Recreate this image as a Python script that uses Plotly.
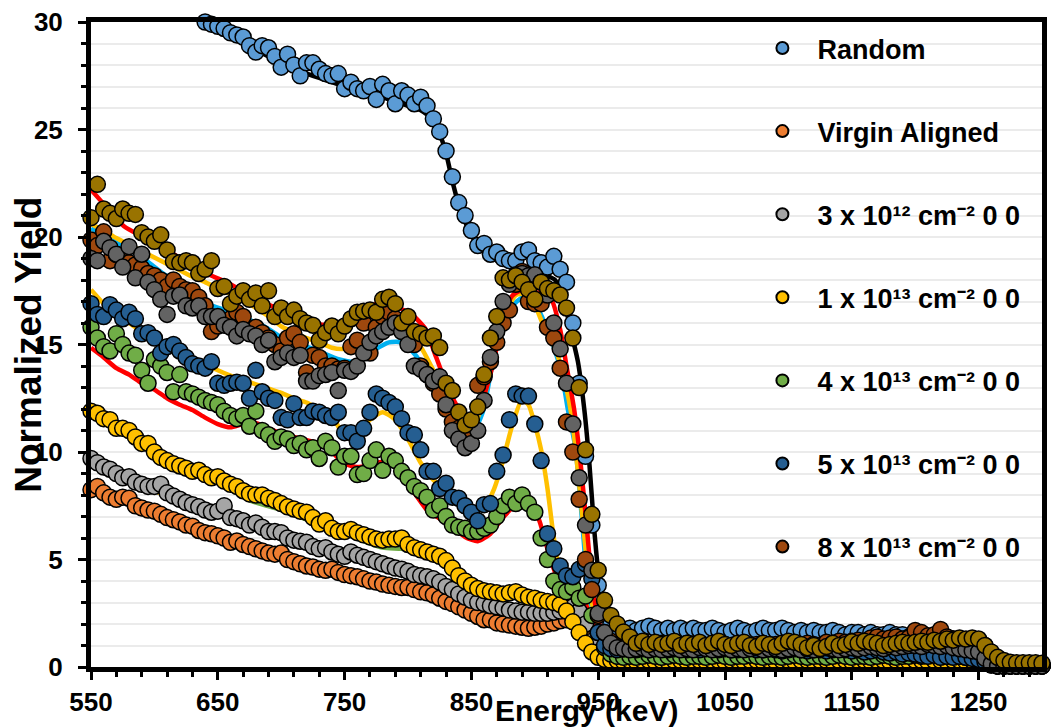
import plotly.graph_objects as go

FONT = "Liberation Sans, Arial, sans-serif"

# Detector energy channels (keV)
ENERGY = [
    550, 555, 560, 565, 570, 575, 580, 585, 590, 595,
    600, 605, 610, 615, 620, 625, 630, 635, 640, 645,
    650, 655, 660, 665, 670, 675, 680, 685, 690, 695,
    700, 705, 710, 715, 720, 725, 730, 735, 740, 745,
    750, 755, 760, 765, 770, 775, 780, 785, 790, 795,
    800, 805, 810, 815, 820, 825, 830, 835, 840, 845,
    850, 855, 860, 865, 870, 875, 880, 885, 890, 895,
    900, 905, 910, 915, 920, 925, 930, 935, 940, 945,
    950, 955, 960, 965, 970, 975, 980, 985, 990, 995,
    1000, 1005, 1010, 1015, 1020, 1025, 1030, 1035, 1040, 1045,
    1050, 1055, 1060, 1065, 1070, 1075, 1080, 1085, 1090, 1095,
    1100, 1105, 1110, 1115, 1120, 1125, 1130, 1135, 1140, 1145,
    1150, 1155, 1160, 1165, 1170, 1175, 1180, 1185, 1190, 1195,
    1200, 1205, 1210, 1215, 1220, 1225, 1230, 1235, 1240, 1245,
    1250, 1255, 1260, 1265, 1270, 1275, 1280, 1285, 1290, 1295,
    1300,
]

# Measured normalized yields, one value per channel
RANDOM = [
    None, None, None, None, None, None, None, None, None, None,
    None, None, None, None, None, None, None, None, 30.0, 29.9,
    29.8, 29.7, 29.5, 29.4, 29.3, 28.9, 28.6, 28.9, 28.8, 28.4,
    27.9, 28.5, 28.0, 27.5, 28.1, 28.1, 27.8, 27.6, 27.5, 27.6,
    26.9, 27.2, 26.9, 26.8, 27.0, 26.4, 27.1, 26.8, 26.2, 26.8,
    26.6, 26.2, 26.5, 26.1, 25.5, 24.9, 24.0, 22.8, 21.6, 21.0,
    20.3, 19.6, 19.7, 19.2, 19.3, 19.0, 18.9, 18.9, 19.3, 19.4,
    18.9, 18.8, 18.6, 19.1, 18.5, 17.9, 16.0, 13.2, 9.8, 6.6,
    3.8, 2.5, 2.0, 1.8, 1.7, 1.8, 1.7, 1.8, 1.9, 1.8,
    1.7, 1.8, 1.7, 1.8, 1.7, 1.8, 1.7, 1.7, 1.8, 1.7,
    1.6, 1.7, 1.8, 1.7, 1.6, 1.7, 1.8, 1.7, 1.7, 1.8,
    1.7, 1.6, 1.7, 1.6, 1.7, 1.6, 1.6, 1.7, 1.6, 1.5,
    1.6, 1.6, 1.5, 1.6, 1.5, 1.5, 1.6, 1.5, 1.5, 1.4,
    1.4, 1.5, 1.3, 1.4, 1.3, 1.4, 1.3, 1.3, 1.2, 1.3,
    1.2, 1.0, 0.6, 0.3, 0.2, 0.15, 0.15, 0.1, 0.15, 0.1,
    0.1,
]

VIRGIN = [
    8.25, 8.4, 8.1, 7.9, 7.8, 7.9, 7.85, 7.5, 7.4, 7.3,
    7.25, 7.1, 6.95, 6.85, 6.75, 6.6, 6.55, 6.35, 6.25, 6.2,
    6.1, 6.0, 5.8, 5.86, 5.7, 5.6, 5.5, 5.4, 5.3, 5.25,
    5.3, 5.0, 4.9, 4.8, 4.7, 4.65, 4.55, 4.5, 4.55, 4.4,
    4.3, 4.25, 4.2, 4.1, 4.0, 3.95, 3.86, 3.8, 3.75, 3.7,
    3.7, 3.6, 3.5, 3.45, 3.35, 3.2, 3.05, 2.95, 2.8, 2.65,
    2.5, 2.35, 2.2, 2.2, 2.05, 2.0, 1.95, 1.9, 1.85, 1.8,
    1.85, 1.9, 2.0, 2.05, 2.15, 2.2, 2.35, 2.5, 2.2, 1.3,
    0.8, 0.5, 0.4, 0.35, 0.4, 0.35, 0.3, 0.35, 0.4, 0.35,
    0.3, 0.35, 0.4, 0.3, 0.35, 0.3, 0.35, 0.4, 0.35, 0.3,
    0.35, 0.3, 0.35, 0.4, 0.3, 0.35, 0.3, 0.35, 0.3, 0.35,
    0.3, 0.35, 0.3, 0.3, 0.35, 0.3, 0.35, 0.3, 0.3, 0.35,
    0.3, 0.3, 0.35, 0.3, 0.3, 0.35, 0.3, 0.3, 0.35, 0.3,
    0.3, 0.35, 0.3, 0.3, 0.35, 0.3, 0.3, 0.35, 0.3, 0.3,
    0.3, 0.2, 0.1, 0.05, 0.05, 0.05, 0.05, 0.05, 0.05, 0.05,
    0.05,
]

DOSE_3E12 = [
    9.7, 9.5, 9.3, 9.2, 9.0, 8.8, 8.85, 8.6, 8.5, 8.4,
    8.4, 8.5, 8.1, 7.95, 7.8, 7.65, 7.55, 7.45, 7.3, 7.2,
    7.25, 7.5, 6.95, 6.9, 6.8, 6.6, 6.7, 6.5, 6.3, 6.3,
    6.25, 6.0, 5.9, 5.85, 5.8, 5.6, 5.5, 5.55, 5.35, 5.25,
    5.15, 5.35, 5.2, 5.1, 5.0, 4.9, 4.8, 4.7, 4.6, 4.55,
    4.45, 4.3, 4.25, 4.2, 4.1, 3.95, 3.75, 3.6, 3.4, 3.25,
    3.1, 3.0, 2.95, 2.85, 2.8, 2.75, 2.65, 2.6, 2.55, 2.55,
    2.5, 2.5, 2.5, 2.55, 2.6, 2.7, 2.8, 2.6, 2.0, 1.2,
    0.7, 0.5, 0.45, 0.5, 0.45, 0.4, 0.45, 0.5, 0.45, 0.4,
    0.45, 0.5, 0.45, 0.4, 0.45, 0.45, 0.5, 0.45, 0.4, 0.45,
    0.5, 0.45, 0.4, 0.45, 0.5, 0.45, 0.4, 0.45, 0.45, 0.5,
    0.45, 0.4, 0.45, 0.5, 0.45, 0.4, 0.45, 0.45, 0.4, 0.45,
    0.5, 0.45, 0.4, 0.45, 0.45, 0.5, 0.45, 0.4, 0.45, 0.5,
    0.45, 0.5, 0.55, 0.5, 0.55, 0.5, 0.45, 0.5, 0.45, 0.4,
    0.35, 0.25, 0.1, 0.05, 0.05, 0.05, 0.05, 0.05, 0.05, 0.05,
    0.05,
]

DOSE_1E13 = [
    11.9, 11.8, 11.55, 11.5, 11.1, 11.1, 11.0, 10.7, 10.4, 10.4,
    10.0, 9.75, 9.6, 9.45, 9.35, 9.25, 9.1, 9.15, 8.95, 8.8,
    8.85, 8.65, 8.5, 8.4, 8.2, 8.05, 8.0, 8.0, 7.85, 7.75,
    7.6, 7.45, 7.35, 7.25, 7.2, 6.95, 6.65, 6.8, 6.45, 6.3,
    6.3, 6.4, 6.25, 6.15, 6.05, 5.95, 5.9, 5.95, 5.95, 6.0,
    5.7, 5.55, 5.45, 5.35, 5.25, 5.15, 4.95, 4.6, 4.25, 4.0,
    3.8, 3.65, 3.55, 3.5, 3.45, 3.4, 3.45, 3.5, 3.35, 3.25,
    3.2, 3.1, 3.05, 3.0, 2.9, 2.6, 2.1, 1.6, 1.1, 0.7,
    0.45, 0.35, 0.3, 0.3, 0.25, 0.3, 0.25, 0.3, 0.3, 0.25,
    0.3, 0.25, 0.3, 0.3, 0.25, 0.3, 0.3, 0.25, 0.3, 0.3,
    0.25, 0.3, 0.3, 0.25, 0.3, 0.3, 0.25, 0.3, 0.25, 0.3,
    0.3, 0.25, 0.3, 0.3, 0.25, 0.3, 0.3, 0.25, 0.3, 0.3,
    0.25, 0.3, 0.3, 0.25, 0.3, 0.3, 0.25, 0.3, 0.3, 0.25,
    0.3, 0.3, 0.25, 0.3, 0.3, 0.25, 0.3, 0.3, 0.25, 0.3,
    0.25, 0.2, 0.1, 0.05, 0.05, 0.05, 0.05, 0.05, 0.05, 0.05,
    0.05,
]

DOSE_4E13 = [
    15.8, 15.3, 14.9, 14.7, 15.5, 15.0, 14.6, 14.5, 13.8, 13.2,
    14.3, 14.0, 13.7, 12.8, 13.6, 12.8, 12.7, 12.55, 12.4, 12.3,
    12.2, 11.9, 11.7, 11.55, 11.7, 11.2, 11.9, 11.0, 10.8, 10.5,
    10.7, 10.6, 10.3, 10.4, 10.1, 10.2, 9.7, 10.5, 10.2, 9.3,
    9.8, 9.8, 8.95, 9.0, 9.6, 10.1, 9.15, 9.8, 9.6, 9.1,
    8.8, 8.4, 8.2, 7.9, 7.3, 7.5, 7.0, 6.6, 6.5, 6.45,
    6.3, 6.3, 6.45, 6.6, 7.0, 7.5, 7.9, 7.6, 8.0, 7.6,
    7.2, 6.0, 5.0, 4.0, 3.6, 3.5, 3.7, 3.2, 3.3, 2.4,
    1.6, 0.9, 0.6, 0.5, 0.45, 0.5, 0.45, 0.5, 0.55, 0.5,
    0.45, 0.5, 0.55, 0.5, 0.45, 0.5, 0.5, 0.45, 0.5, 0.55,
    0.5, 0.45, 0.5, 0.5, 0.55, 0.5, 0.45, 0.5, 0.5, 0.45,
    0.5, 0.55, 0.5, 0.45, 0.5, 0.5, 0.45, 0.5, 0.55, 0.5,
    0.45, 0.5, 0.5, 0.45, 0.5, 0.55, 0.5, 0.45, 0.5, 0.5,
    0.55, 0.5, 0.55, 0.6, 0.55, 0.5, 0.55, 0.5, 0.45, 0.5,
    0.4, 0.3, 0.15, 0.05, 0.05, 0.05, 0.05, 0.05, 0.05, 0.05,
    0.05,
]

DOSE_5E13 = [
    16.9, 16.4, 16.3, 16.85, 16.6, 16.2, 16.5, 16.2, 15.5, 15.55,
    15.3, 14.6, 14.9, 15.0, 14.7, 14.4, 14.1, 14.0, 13.9, 14.2,
    13.2, 13.1, 13.2, 13.25, 13.2, 12.5, 13.8, 12.8, 12.5, 12.4,
    11.6, 11.5, 12.25, 11.6, 11.6, 11.9, 11.85, 11.7, 11.6, 11.85,
    10.9, 10.9, 10.5, 11.1, 11.85, 12.7, 12.5, 12.3, 12.1, 11.55,
    10.9, 10.8, 10.1, 9.1, 9.1, 8.3, 8.55, 7.9, 7.85, 7.5,
    7.2, 6.8, 7.55, 7.6, 9.1, 9.86, 11.5, 12.7, 12.6, 12.6,
    11.3, 9.6, 6.2, 5.5, 4.7, 4.25, 4.2, 4.55, 4.8, 4.1,
    1.6, 1.0, 0.85, 0.8, 0.85, 0.9, 0.8, 0.85, 0.8, 0.9,
    0.85, 0.8, 0.85, 0.9, 0.8, 0.85, 0.8, 0.9, 0.85, 0.8,
    0.85, 0.8, 0.8, 0.85, 0.9, 0.8, 0.8, 0.85, 0.8, 0.75,
    0.8, 0.85, 0.8, 0.75, 0.8, 0.8, 0.75, 0.8, 0.85, 0.8,
    0.75, 0.8, 0.7, 0.75, 0.8, 0.7, 0.65, 0.7, 0.6, 0.65,
    0.6, 0.55, 0.5, 0.55, 0.45, 0.5, 0.45, 0.5, 0.45, 0.4,
    0.35, 0.25, 0.1, 0.05, 0.05, 0.05, 0.05, 0.05, 0.05, 0.05,
    0.05,
]

DOSE_8E13 = [
    19.86, 19.6, 20.24, 18.9, 19.2, 19.0, 18.8, 18.7, 18.55, 18.3,
    18.2, 18.0, 17.7, 18.0, 17.7, 17.55, 17.5, 17.2, 16.8, 15.6,
    15.86, 16.1, 16.2, 16.5, 16.3, 15.6, 15.8, 15.55, 15.3, 15.0,
    14.7, 15.3, 15.5, 15.1, 13.7, 14.5, 14.4, 14.0, 14.0, 13.86,
    13.9, 14.9, 15.2, 16.0, 14.6, 15.8, 16.3, 16.5, 16.2, 15.8,
    15.4, 15.0, 14.0, 13.6, 13.2, 12.7, 12.0, 11.4, 11.1, 11.0,
    11.0, 13.1, 13.5, 14.2, 15.1, 16.0, 16.6, 17.8, 18.4, 17.0,
    16.9, 16.9, 15.8, 15.3, 13.9, 11.4, 10.0, 7.8, 5.0, 3.6,
    2.4, 1.6, 1.2, 1.05, 1.0, 1.1, 1.0, 0.95, 1.05, 1.0,
    1.1, 1.0, 0.95, 1.05, 1.1, 1.0, 1.05, 0.95, 1.0, 1.1,
    1.05, 1.0, 1.1, 1.0, 0.95, 1.05, 1.1, 1.0, 1.05, 1.0,
    1.1, 1.05, 1.0, 1.1, 1.05, 1.0, 1.15, 1.1, 1.2, 1.15,
    1.2, 1.25, 1.2, 1.35, 1.4, 1.3, 1.35, 1.4, 1.3, 1.35,
    1.7, 1.6, 1.45, 1.5, 1.75, 1.4, 1.3, 1.2, 1.25, 1.1,
    0.9, 0.5, 0.2, 0.1, 0.05, 0.05, 0.05, 0.05, 0.05, 0.05,
    0.05,
]

DOSE_1E14 = [
    19.0, 18.9, 19.8, 19.5, 19.2, 18.6, 19.55, 18.1, 19.2, 17.9,
    17.55, 17.1, 16.4, 17.25, 17.3, 16.8, 16.7, 16.8, 16.3, 16.3,
    16.3, 15.9, 15.8, 15.4, 15.7, 15.5, 15.4, 15.0, 15.2, 14.2,
    14.4, 14.6, 14.4, 14.5, 13.3, 13.3, 13.55, 13.6, 13.7, 12.86,
    13.8, 13.75, 14.0, 14.6, 15.1, 15.4, 15.6, 15.8, 16.0, 15.6,
    15.0, 14.0, 13.86, 13.6, 13.3, 13.5, 12.2, 11.0, 10.6, 10.2,
    10.4, 11.0, 12.4, 14.4, 15.6, 17.0, 17.8, 18.24, 18.3, 18.2,
    18.24, 17.9, 17.3, 16.0, 14.8, 13.2, 11.3, 8.8, 6.6, 4.5,
    2.5, 1.6, 1.1, 0.9, 0.85, 0.8, 0.85, 0.9, 0.8, 0.85,
    0.8, 0.85, 0.9, 0.8, 0.85, 0.8, 0.9, 0.85, 0.8, 0.85,
    0.9, 0.8, 0.85, 0.8, 0.85, 0.9, 0.8, 0.85, 0.85, 0.8,
    0.85, 0.9, 0.8, 0.85, 0.8, 0.85, 0.9, 0.85, 0.8, 0.85,
    0.9, 0.85, 0.9, 0.95, 0.9, 0.85, 0.95, 0.9, 0.95, 1.0,
    1.0, 0.95, 1.05, 1.0, 0.95, 1.0, 0.9, 0.85, 0.8, 0.75,
    0.7, 0.4, 0.15, 0.05, 0.05, 0.05, 0.05, 0.05, 0.05, 0.05,
    0.05,
]

DOSE_2E14 = [
    20.9, 22.45, 21.3, 21.1, 20.86, 21.3, 21.1, 21.05, 20.2, 20.0,
    19.8, 20.1, 19.4, 18.86, 18.8, 18.9, 18.8, 18.3, 18.5, 18.9,
    17.6, 17.7, 16.9, 17.25, 17.5, 17.1, 17.4, 16.8, 17.5, 16.3,
    16.7, 16.3, 16.6, 16.2, 16.0, 15.9, 15.2, 15.55, 15.86, 15.5,
    15.86, 16.2, 16.5, 16.55, 16.6, 16.5, 17.1, 17.2, 16.9, 16.0,
    16.3, 15.6, 15.5, 15.3, 15.4, 14.86, 13.2, 12.86, 11.86, 11.25,
    11.5, 12.1, 13.6, 15.3, 16.3, 18.1, 18.0, 18.2, 17.9, 17.55,
    17.1, 17.9, 17.6, 17.5, 17.3, 16.7, 15.3, 13.0, 10.1, 7.1,
    4.5, 3.1, 2.4, 2.0, 1.63, 1.4, 1.1, 1.2, 1.05, 1.15,
    1.05, 1.1, 1.2, 1.0, 1.1, 1.05, 1.15, 1.0, 1.1, 1.2,
    1.05, 1.0, 1.1, 1.15, 1.0, 0.95, 1.1, 1.05, 0.95, 1.1,
    1.2, 1.15, 1.05, 0.9, 1.0, 0.86, 0.95, 1.1, 1.0, 1.05,
    1.17, 1.1, 1.2, 1.15, 1.1, 1.0, 1.05, 1.1, 1.15, 1.1,
    1.15, 1.2, 1.15, 1.25, 1.2, 1.3, 1.25, 1.35, 1.3, 1.35,
    1.3, 1.0, 0.7, 0.45, 0.3, 0.22, 0.2, 0.2, 0.2, 0.2,
    0.18,
]

# Simulated spectra as (energy keV, yield) knots
SIM_RANDOM = [
    (640, 30.2), (650, 29.8), (660, 29.4), (670, 29.0), (680, 28.7), (690, 28.4),
    (700, 28.1), (710, 27.8), (720, 27.6), (730, 27.4), (740, 27.2), (750, 27.0),
    (760, 26.8), (770, 26.6), (780, 26.5), (790, 26.3), (800, 26.1), (810, 25.9),
    (815, 25.7), (820, 25.4), (825, 24.8), (830, 23.9), (835, 22.6), (840, 21.5),
    (845, 20.7), (850, 20.1), (855, 19.6), (860, 19.3), (870, 18.9), (880, 18.6),
    (890, 18.5), (900, 18.4), (905, 18.3), (910, 18.2), (916, 18.0), (920, 17.5),
    (924, 16.8), (929, 15.5), (934, 14.2), (939, 12.0), (943, 9.5), (947, 6.3),
    (950, 4.4), (953, 3.0), (957, 2.2), (962, 1.9), (970, 1.75), (1000, 1.7),
    (1050, 1.65), (1100, 1.6), (1150, 1.55), (1200, 1.45), (1240, 1.3), (1250, 1.2),
    (1257, 0.8), (1264, 0.3), (1270, 0.15), (1300, 0.1),
]

SIM_VIRGIN = [
    (550, 8.2), (600, 7.1), (650, 6.0), (700, 5.1), (750, 4.2), (800, 3.6),
    (830, 3.05), (850, 2.5), (870, 2.05), (890, 1.85), (910, 1.95), (930, 2.3),
    (938, 2.4), (945, 1.2), (950, 0.6), (960, 0.35), (1250, 0.3), (1262, 0.05),
    (1300, 0.05),
]

SIM_3E12 = [
    (550, 9.9), (575, 8.9), (600, 8.2), (625, 7.6), (650, 7.1), (675, 6.55),
    (700, 6.05), (725, 5.6), (750, 5.1), (775, 4.75), (800, 4.35), (825, 3.9),
    (850, 3.1), (870, 2.75), (890, 2.5), (910, 2.45), (925, 2.6), (935, 2.6),
    (942, 1.8), (948, 0.9), (955, 0.5), (1250, 0.45), (1262, 0.05), (1300, 0.05),
]

SIM_1E13 = [
    (550, 11.7), (575, 10.9), (600, 10.0), (625, 9.2), (650, 8.6), (675, 7.75),
    (700, 7.3), (725, 6.75), (750, 6.2), (780, 5.55), (795, 5.5), (810, 5.3),
    (825, 5.0), (840, 4.2), (860, 3.5), (880, 3.35), (900, 3.1), (920, 2.85),
    (928, 2.3), (935, 1.5), (942, 0.8), (950, 0.4), (960, 0.3), (1250, 0.3),
    (1262, 0.05), (1300, 0.05),
]

SIM_4E13 = [
    (550, 14.85), (560, 14.4), (570, 13.9), (580, 13.6), (590, 13.2), (600, 12.9),
    (610, 12.5), (620, 12.2), (630, 11.95), (640, 11.6), (650, 11.3), (660, 11.15),
    (670, 11.3), (680, 11.35), (690, 11.1), (700, 10.85), (710, 10.7), (720, 10.55),
    (730, 10.4), (740, 10.0), (750, 9.45), (760, 9.3), (770, 9.4), (780, 9.55),
    (786, 9.45), (795, 9.0), (805, 8.1), (815, 7.3), (825, 6.9), (835, 6.5),
    (845, 6.05), (855, 5.85), (865, 6.2), (875, 6.95), (885, 7.55), (895, 7.55),
    (903, 6.9), (908, 5.9), (913, 4.9), (918, 4.1), (925, 3.5), (932, 3.3),
    (940, 2.9), (945, 2.2), (950, 1.2), (955, 0.6), (960, 0.45), (1250, 0.45),
    (1262, 0.05), (1300, 0.05),
]

SIM_5E13 = [
    (550, 17.55), (560, 16.9), (570, 16.4), (580, 16.0), (590, 15.6), (600, 15.3),
    (610, 14.95), (620, 14.65), (630, 14.35), (640, 14.1), (650, 13.8), (660, 13.55),
    (670, 13.35), (680, 13.15), (690, 12.95), (700, 12.75), (710, 12.5), (720, 12.3),
    (730, 12.0), (740, 11.7), (746, 11.1), (752, 10.8), (760, 10.9), (770, 11.5),
    (780, 11.85), (790, 11.5), (800, 10.6), (810, 9.5), (820, 8.7), (830, 8.2),
    (840, 7.7), (850, 7.35), (856, 7.3), (862, 7.6), (868, 8.3), (874, 9.4),
    (882, 11.2), (890, 12.45), (895, 12.2), (900, 11.3), (905, 10.1), (910, 8.3),
    (915, 6.0), (920, 4.4), (925, 3.8), (930, 3.6), (935, 3.4), (940, 3.0),
    (945, 2.2), (950, 1.2), (955, 0.7), (960, 0.55), (1250, 0.5), (1262, 0.05),
    (1300, 0.05),
]

SIM_8E13 = [
    (550, 20.6), (560, 20.3), (570, 19.95), (580, 19.65), (590, 19.35), (600, 19.05),
    (610, 18.75), (620, 18.45), (630, 18.15), (640, 17.9), (650, 17.6), (660, 17.35),
    (670, 17.05), (680, 16.7), (690, 16.3), (700, 15.85), (710, 15.55), (720, 15.3),
    (730, 15.1), (740, 14.85), (750, 14.8), (760, 15.0), (770, 15.4), (780, 15.9),
    (790, 16.0), (800, 15.6), (810, 14.9), (820, 13.8), (830, 12.6), (840, 11.3),
    (848, 11.0), (855, 11.6), (862, 13.0), (870, 14.9), (878, 16.5), (885, 17.3),
    (892, 17.35), (898, 17.1), (906, 16.0), (913, 15.2), (918, 14.5), (924, 13.2),
    (929, 11.7), (935, 8.5), (940, 5.5), (945, 3.0), (950, 1.8), (955, 1.2),
    (960, 1.0), (1250, 0.95), (1262, 0.1), (1300, 0.05),
]

SIM_1E14 = [
    (550, 20.4), (568, 19.8), (589, 19.1), (607, 18.3), (620, 17.8), (634, 17.1),
    (660, 16.5), (686, 15.86), (704, 15.2), (725, 14.8), (746, 14.3), (759, 14.2),
    (772, 14.7), (785, 15.1), (795, 15.1), (806, 14.5), (820, 13.2), (833, 11.86),
    (840, 11.1), (850, 10.8), (859, 11.86), (867, 14.2), (875, 15.86), (884, 16.9),
    (893, 17.25), (903, 16.6), (913, 15.2), (921, 13.7), (926, 12.0), (932, 10.2),
    (937, 7.0), (942, 3.5), (947, 1.5), (952, 0.9), (960, 0.8), (1250, 0.8),
    (1262, 0.05), (1300, 0.05),
]

SIM_2E14 = [
    (550, 22.2), (562, 21.4), (576, 20.5), (588, 20.1), (605, 19.6), (623, 18.9),
    (641, 18.3), (657, 17.9), (678, 17.2), (694, 16.75), (712, 16.3), (725, 16.0),
    (736, 15.9), (751, 16.0), (767, 16.55), (778, 17.0), (793, 16.7), (803, 16.4),
    (814, 15.7), (821, 14.6), (830, 13.2), (838, 12.2), (847, 11.4), (856, 12.0),
    (864, 13.4), (869, 14.6), (874, 16.0), (882, 17.25), (890, 17.55), (903, 17.4),
    (913, 17.1), (920, 15.7), (925, 14.0), (931, 12.0), (936, 9.55), (941, 6.5),
    (945, 4.0), (950, 2.2), (955, 1.4), (960, 1.1), (1000, 1.05), (1100, 1.05),
    (1200, 1.1), (1250, 1.1), (1258, 0.6), (1265, 0.2), (1300, 0.15),
]

SIM_LINES = [
    (SIM_VIRGIN, "#00B0F0"),
    (SIM_1E14, "#00B0F0"),
    (SIM_1E13, "#70AD47"),
    (SIM_3E12, "#FFC000"),
    (SIM_5E13, "#FFC000"),
    (SIM_8E13, "#FFC000"),
    (SIM_4E13, "#FF0000"),
    (SIM_2E14, "#FF0000"),
    (SIM_RANDOM, "#000000"),
]

NBSP = "\u00a0\u00a0"
SERIES = [
    ("Random", RANDOM, "#5B9BD5", True),
    ("Virgin Aligned", VIRGIN, "#ED7D31", True),
    ("3 x 10\u00b9\u00b2 cm\u207b\u00b2 0 0", DOSE_3E12, "#A5A5A5", True),
    ("1 x 10\u00b9\u00b3 cm\u207b\u00b2 0 0", DOSE_1E13, "#FFC000", True),
    ("4 x 10\u00b9\u00b3 cm\u207b\u00b2 0 0", DOSE_4E13, "#70AD47", True),
    ("5 x 10\u00b9\u00b3 cm\u207b\u00b2 0 0", DOSE_5E13, "#255E91", True),
    ("8 x 10\u00b9\u00b3 cm\u207b\u00b2 0 0", DOSE_8E13, "#9E480E", True),
    ("1 x 10\u00b9\u2074 cm\u207b\u00b2 0 0", DOSE_1E14, "#636363", False),
    ("2 x 10\u00b9\u2074 cm\u207b\u00b2 0 0", DOSE_2E14, "#997300", False),
]

fig = go.Figure()

for knots, color in SIM_LINES:
    fig.add_trace(go.Scatter(
        x=[k[0] for k in knots], y=[k[1] for k in knots],
        mode="lines", showlegend=False, hoverinfo="skip",
        line=dict(color=color, width=4.5, shape="spline", smoothing=0.6),
    ))

for name, vals, color, show in SERIES:
    fig.add_trace(go.Scatter(
        x=ENERGY[:len(vals)], y=vals, mode="markers",
        name=NBSP + name, legendgroup=name, showlegend=show,
        cliponaxis=False,
        marker=dict(size=16, color=color, line=dict(color="black", width=1.5)),
    ))

axis_common = dict(
    showline=True, linewidth=5, linecolor="black", mirror=True,
    ticks="outside", ticklen=8, tickwidth=3, tickcolor="black",
    zeroline=False,
    tickfont=dict(family=FONT, size=26, color="black", weight="bold"),
)

fig.update_layout(
    width=1054, height=728,
    margin=dict(l=91, r=7, t=16, b=61),
    paper_bgcolor="white", plot_bgcolor="white",
    font=dict(family=FONT, color="black"),
    legend=dict(
        x=0.706, y=0.997, xanchor="left", yanchor="top",
        bgcolor="rgba(0,0,0,0)", itemsizing="constant",
        traceorder="grouped", tracegroupgap=45,
        font=dict(family=FONT, size=27, color="black", weight="bold"),
    ),
    xaxis=dict(
        range=[550, 1300], tick0=550, dtick=100, showgrid=False,
        minor=dict(ticks="outside", ticklen=5, tickwidth=3, tickcolor="black",
                   tick0=550, dtick=20, showgrid=False),
        **axis_common,
    ),
    yaxis=dict(
        range=[0, 30], tick0=0, dtick=5,
        showgrid=True, gridcolor="#EBEBEB", gridwidth=2,
        ticklabelstandoff=10,
        minor=dict(ticks="outside", ticklen=5, tickwidth=3, tickcolor="black",
                   dtick=1, showgrid=True, gridcolor="#EBEBEB", gridwidth=2),
        **axis_common,
    ),
    annotations=[
        dict(text="Normalized Yield", textangle=-90, xref="paper", yref="paper",
             x=-0.066, y=0.5, xanchor="center", yanchor="middle", showarrow=False,
             font=dict(family=FONT, size=37, color="black", weight="bold")),
        dict(text="Energy (keV)", xref="paper", yref="paper",
             x=0.521, y=0, xanchor="center", yanchor="middle", yshift=-43,
             showarrow=False,
             font=dict(family=FONT, size=30, color="black", weight="bold")),
    ],
)

fig.write_html("out.html")
